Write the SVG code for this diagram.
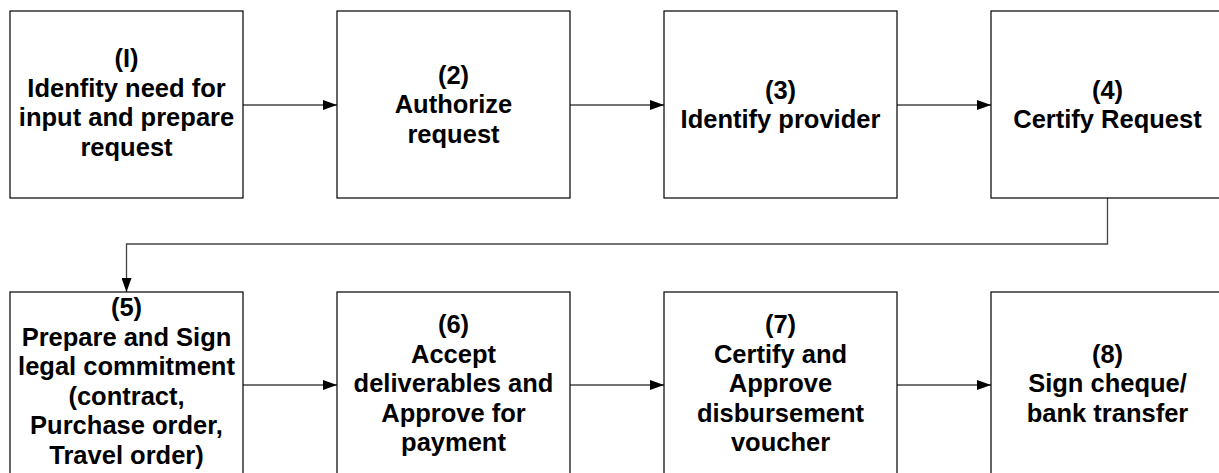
<svg xmlns="http://www.w3.org/2000/svg" width="1219" height="473" viewBox="0 0 1219 473">
<style>
.box{fill:#fff;stroke:#000;stroke-width:1.2}
.t{font-family:"Liberation Sans",Arial,sans-serif;font-weight:bold;font-size:25.5px;fill:#000;text-anchor:middle}
.c{fill:none;stroke:#444;stroke-width:1.3}
</style>
<defs>
<marker id="ah" markerWidth="14" markerHeight="10" refX="14" refY="5" orient="auto" markerUnits="userSpaceOnUse">
<path d="M0,0 L14,5 L0,10 Z" fill="#000"/>
</marker>
</defs>
<rect width="1219" height="473" fill="#fff"/>
<g id="connectors">
<line class="c" x1="243" y1="105" x2="337" y2="105" marker-end="url(#ah)"/>
<line class="c" x1="570" y1="105" x2="664" y2="105" marker-end="url(#ah)"/>
<line class="c" x1="897" y1="105" x2="991" y2="105" marker-end="url(#ah)"/>
<polyline class="c" points="1107.5,198 1107.5,244 126.5,244 126.5,292" marker-end="url(#ah)"/>
<line class="c" x1="243" y1="385" x2="337" y2="385" marker-end="url(#ah)"/>
<line class="c" x1="570" y1="385" x2="664" y2="385" marker-end="url(#ah)"/>
<line class="c" x1="897" y1="385" x2="991" y2="385" marker-end="url(#ah)"/>
</g>
<g id="n1">
<rect class="box" x="10" y="11" width="233" height="187"/>
<text class="t"><tspan x="126.5" y="67">(I)</tspan><tspan x="126.5" y="96.5">Idenfity need for</tspan><tspan x="126.5" y="126">input and prepare</tspan><tspan x="126.5" y="155.5">request</tspan></text>
</g>
<g id="n2">
<rect class="box" x="337" y="11" width="233" height="187"/>
<text class="t"><tspan x="453.5" y="83.8">(2)</tspan><tspan x="453.5" y="113.3">Authorize</tspan><tspan x="453.5" y="142.8">request</tspan></text>
</g>
<g id="n3">
<rect class="box" x="664" y="11" width="233" height="187"/>
<text class="t"><tspan x="780.5" y="98.5">(3)</tspan><tspan x="780.5" y="128">Identify provider</tspan></text>
</g>
<g id="n4">
<rect class="box" x="991" y="11" width="233" height="187"/>
<text class="t"><tspan x="1107.5" y="98.5">(4)</tspan><tspan x="1107.5" y="128">Certify Request</tspan></text>
</g>
<g id="n5">
<rect class="box" x="10" y="292" width="233" height="186"/>
<text class="t"><tspan x="126.5" y="316">(5)</tspan><tspan x="126.5" y="345.5">Prepare and Sign</tspan><tspan x="126.5" y="375">legal commitment</tspan><tspan x="126.5" y="404.5">(contract,</tspan><tspan x="126.5" y="434">Purchase order,</tspan><tspan x="126.5" y="463.5">Travel order)</tspan></text>
</g>
<g id="n6">
<rect class="box" x="337" y="292" width="233" height="186"/>
<text class="t"><tspan x="453.5" y="333">(6)</tspan><tspan x="453.5" y="362.5">Accept</tspan><tspan x="453.5" y="392">deliverables and</tspan><tspan x="453.5" y="421.5">Approve for</tspan><tspan x="453.5" y="451">payment</tspan></text>
</g>
<g id="n7">
<rect class="box" x="664" y="292" width="233" height="186"/>
<text class="t"><tspan x="780.5" y="333">(7)</tspan><tspan x="780.5" y="362.5">Certify and</tspan><tspan x="780.5" y="392">Approve</tspan><tspan x="780.5" y="421.5">disbursement</tspan><tspan x="780.5" y="451">voucher</tspan></text>
</g>
<g id="n8">
<rect class="box" x="991" y="292" width="233" height="186"/>
<text class="t"><tspan x="1107.5" y="362.5">(8)</tspan><tspan x="1107.5" y="392">Sign cheque/</tspan><tspan x="1107.5" y="421.5">bank transfer</tspan></text>
</g>
</svg>
